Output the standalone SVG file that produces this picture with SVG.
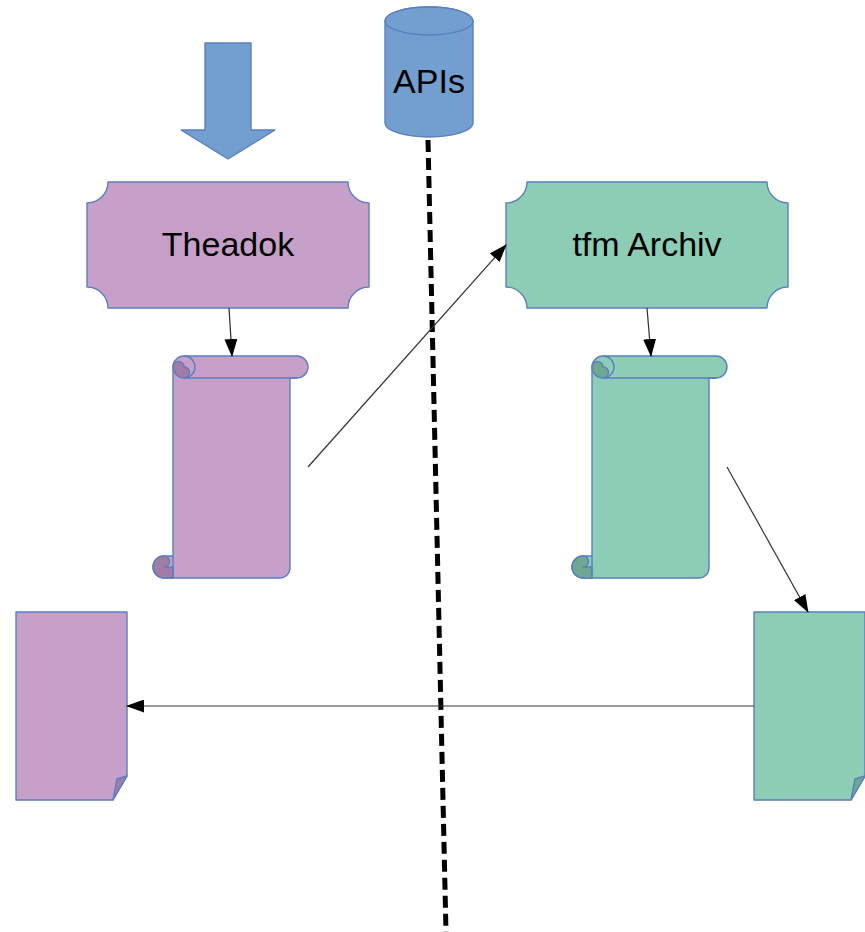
<svg xmlns="http://www.w3.org/2000/svg" width="865" height="932" viewBox="0 0 865 932">
<defs>
<style>
.shp{stroke:#5b7fbf;stroke-width:1.4;stroke-linejoin:round}
.pur{fill:#c7a0c9}
.purd{fill:#a07ca6}
.grn{fill:#8dcdb5}
.grnd{fill:#6fa892}
.blu{fill:#729fcf}
.lbl{font-family:"Liberation Sans",Arial,sans-serif;font-size:34px;fill:#000;text-anchor:middle}
.con{stroke:#333;stroke-width:1.2;fill:none}
</style>
<marker id="ah" markerWidth="18" markerHeight="13" refX="17" refY="6.5" orient="auto" markerUnits="userSpaceOnUse">
<path d="M0,0 L18,6.5 L0,13 Z" fill="#000"/>
</marker>
</defs>

<g id="big-arrow">
<path class="shp blu" d="M205,43 L251,43 L251,130 L275,130 L228,159 L181,130 L205,130 Z"/>
</g>

<g id="apis">
<path class="shp blu" d="M385,21 L385,123 A44,14 0 0 0 473,123 L473,21 A44,14 0 0 0 385,21 Z"/>
<ellipse class="shp blu" cx="429" cy="21" rx="44" ry="14"/>
<text class="lbl" x="429" y="93">APIs</text>
</g>

<g id="divider">
<line x1="428" y1="140" x2="446" y2="932" stroke="#000" stroke-width="5" stroke-dasharray="12,6"/>
</g>

<g id="theadok">
<path class="shp pur" d="M108,182 L348,182 A21,21 0 0 0 369,203 L369,287 A21,21 0 0 0 348,308 L108,308 A21,21 0 0 0 87,287 L87,203 A21,21 0 0 0 108,182 Z"/>
<text class="lbl" x="228" y="256">Theadok</text>
</g>

<g id="tfm-archiv">
<path class="shp grn" d="M527,182 L767,182 A21,21 0 0 0 788,203 L788,287 A21,21 0 0 0 767,308 L527,308 A21,21 0 0 0 506,287 L506,203 A21,21 0 0 0 527,182 Z"/>
<text class="lbl" x="647" y="256">tfm Archiv</text>
</g>

<g id="scroll-left">
<path class="shp pur" d="M173,367 A11,11 0 0 1 184,356 L297,356 A11,11 0 0 1 297,378 L290,378 L290,568 A10,10 0 0 1 280,578 L164,578 A11,11 0 0 1 164,556 L173,556 Z"/>
<path class="shp purd" d="M184,378 A11,11 0 0 1 173,367 A5.5,5.5 0 0 1 184,367 A5.5,5.5 0 0 1 184,378 Z"/>
<path class="shp" fill="none" d="M184,356 A11,11 0 0 1 184,378 L297,378"/>
<path class="shp purd" d="M164,578 A11,11 0 0 1 164,556 A5.5,5.5 0 0 1 164,567 L173,567 L173,578 Z"/>
<path class="shp" fill="none" d="M173,556 L173,578"/>
</g>

<g id="scroll-right">
<path class="shp grn" d="M592,367 A11,11 0 0 1 603,356 L716,356 A11,11 0 0 1 716,378 L709,378 L709,568 A10,10 0 0 1 699,578 L583,578 A11,11 0 0 1 583,556 L592,556 Z"/>
<path class="shp grnd" d="M603,378 A11,11 0 0 1 592,367 A5.5,5.5 0 0 1 603,367 A5.5,5.5 0 0 1 603,378 Z"/>
<path class="shp" fill="none" d="M603,356 A11,11 0 0 1 603,378 L716,378"/>
<path class="shp grnd" d="M583,578 A11,11 0 0 1 583,556 A5.5,5.5 0 0 1 583,567 L592,567 L592,578 Z"/>
<path class="shp" fill="none" d="M592,556 L592,578"/>
</g>

<g id="doc-left">
<path class="shp pur" d="M16,612 L127,612 L127,776 L113,800 L16,800 Z"/>
<path class="shp purd" d="M127,776 L117,779 L113,800 Z"/>
</g>

<g id="doc-right">
<path class="shp grn" d="M754,612 L865,612 L865,776 L851,800 L754,800 Z"/>
<path class="shp grnd" d="M865,776 L855,779 L851,800 Z"/>
</g>

<g id="connectors">
<line class="con" x1="229" y1="308" x2="232" y2="356" marker-end="url(#ah)"/>
<line class="con" x1="647" y1="308" x2="651" y2="356" marker-end="url(#ah)"/>
<line class="con" x1="308" y1="467" x2="506" y2="245" marker-end="url(#ah)"/>
<line class="con" x1="727" y1="467" x2="808" y2="612" marker-end="url(#ah)"/>
<line class="con" x1="754" y1="706" x2="127" y2="706" marker-end="url(#ah)"/>
</g>
</svg>
